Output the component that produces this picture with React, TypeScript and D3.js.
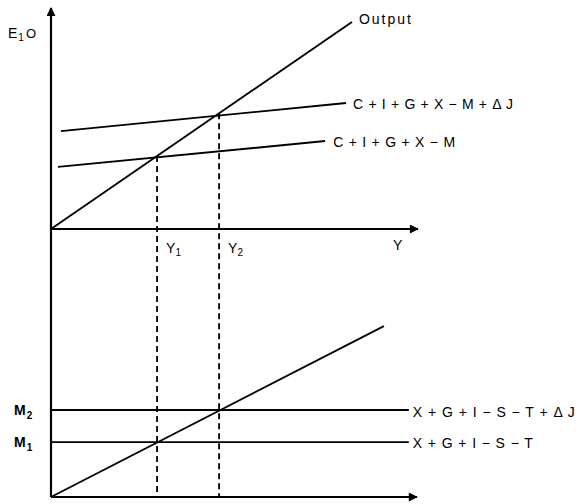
import React from "react";
import * as d3 from "d3";

// Abstract units (0..10) for both panels
const outputLine: [number, number][] = [[0, 0], [8.2, 9.37]];
const aeBase: [number, number][] = [[0.19, 2.81], [7.47, 3.98]];
const aeShifted: [number, number][] = [[0.27, 4.43], [8.04, 5.70]];
const equilibriumX = [2.89, 4.58];
const equilibriumLabels = ["1", "2"];
const leakageLevels = [2.76, 4.37];
const leakageLabels = ["1", "2"];
const leakageEndX = 9.75;
const importLine: [number, number][] = [[0, 0], [9.07, 8.59]];
const lineLabels = {
  output: "Output",
  aeShifted: "C + I + G + X − M + Δ J",
  aeBase: "C + I + G + X − M",
  leakShifted: "X + G + I − S − T + Δ J",
  leakBase: "X + G + I − S − T",
};

const W = 581;
const H = 504;
const x = d3.scaleLinear().domain([0, 10]).range([51, 418]);
const yTop = d3.scaleLinear().domain([0, 10]).range([229, 8]);
const yBot = d3.scaleLinear().domain([0, 10]).range([497, 298]);

const font = "'Liberation Sans', Arial, sans-serif";

export default function App() {
  const lineTop = d3.line<[number, number]>().x((d) => x(d[0])).y((d) => yTop(d[1]));
  const lineBot = d3.line<[number, number]>().x((d) => x(d[0])).y((d) => yBot(d[1]));
  const outSlope = outputLine[1][1] / outputLine[1][0];
  const ox = x(0);
  const sw = 1.9;

  return (
    <svg width={W} height={H} style={{ position: "absolute", left: 0, top: 0, background: "#fff" }}>
      <defs>
        <marker id="arr" viewBox="0 0 10 10" refX="9" refY="5" markerWidth="10" markerHeight="9" markerUnits="userSpaceOnUse" orient="auto">
          <path d="M0,0 L10,5 L0,10 z" fill="#000" />
        </marker>
      </defs>
      {/* vertical axis spanning both panels */}
      <line x1={ox} y1={yBot(0)} x2={ox} y2={yTop(10)} stroke="#000" strokeWidth={2.2} markerEnd="url(#arr)" />
      {/* top horizontal axis */}
      <line x1={ox} y1={yTop(0)} x2={x(10)} y2={yTop(0)} stroke="#000" strokeWidth={2.2} markerEnd="url(#arr)" />
      {/* bottom horizontal axis */}
      <line x1={ox} y1={yBot(0)} x2={x(9.97)} y2={yBot(0)} stroke="#000" strokeWidth={2.2} markerEnd="url(#arr)" />

      {/* dashed verticals */}
      {equilibriumX.map((v, i) => (
        <line key={i} x1={x(v)} x2={x(v)} y1={yTop(v * outSlope)} y2={yBot(0)} stroke="#000" strokeWidth={1.8} strokeDasharray="6,4" />
      ))}

      {/* top panel lines */}
      <path d={lineTop(outputLine) || ""} stroke="#000" strokeWidth={sw} fill="none" />
      <path d={lineTop(aeBase) || ""} stroke="#000" strokeWidth={sw} fill="none" />
      <path d={lineTop(aeShifted) || ""} stroke="#000" strokeWidth={sw} fill="none" />

      {/* bottom panel lines */}
      <path d={lineBot(importLine) || ""} stroke="#000" strokeWidth={sw} fill="none" />
      {leakageLevels.map((v, i) => (
        <line key={i} x1={ox} x2={x(leakageEndX)} y1={yBot(v)} y2={yBot(v)} stroke="#000" strokeWidth={sw} />
      ))}

      <g fontFamily={font} fill="#000">
        <text x={x(outputLine[1][0]) + 7} y={24} fontSize={14} textLength={52} lengthAdjust="spacing">{lineLabels.output}</text>
        <text x={x(aeShifted[1][0]) + 7} y={yTop(aeShifted[1][1]) + 6} fontSize={14} textLength={160} lengthAdjust="spacing">{lineLabels.aeShifted}</text>
        <text x={x(aeBase[1][0]) + 8} y={yTop(aeBase[1][1]) + 6} fontSize={14} textLength={122} lengthAdjust="spacing">{lineLabels.aeBase}</text>
        <text x={x(leakageEndX) + 4} y={yBot(leakageLevels[1]) + 7} fontSize={14} textLength={162} lengthAdjust="spacing">{lineLabels.leakShifted}</text>
        <text x={x(leakageEndX) + 4} y={yBot(leakageLevels[0]) + 6} fontSize={14} textLength={120} lengthAdjust="spacing">{lineLabels.leakBase}</text>

        <text x={393} y={250} fontSize={14}>Y</text>
        {equilibriumX.map((v, i) => (
          <text key={i} x={x(v) + 9} y={253} fontSize={14}>
            Y<tspan fontSize={10} dy={3}>{equilibriumLabels[i]}</tspan>
          </text>
        ))}
        {leakageLevels.map((v, i) => (
          <text key={i} x={14} y={yBot(v) + 5} fontSize={14} fontWeight="bold">
            M<tspan fontSize={10} dx={1} dy={4}>{leakageLabels[i]}</tspan>
          </text>
        ))}
        <text x={8} y={38} fontSize={14}>
          E<tspan fontSize={10} dx={1} dy={3}>1</tspan><tspan dx={2} dy={-3} fontSize={13}>O</tspan>
        </text>
      </g>
    </svg>
  );
}
